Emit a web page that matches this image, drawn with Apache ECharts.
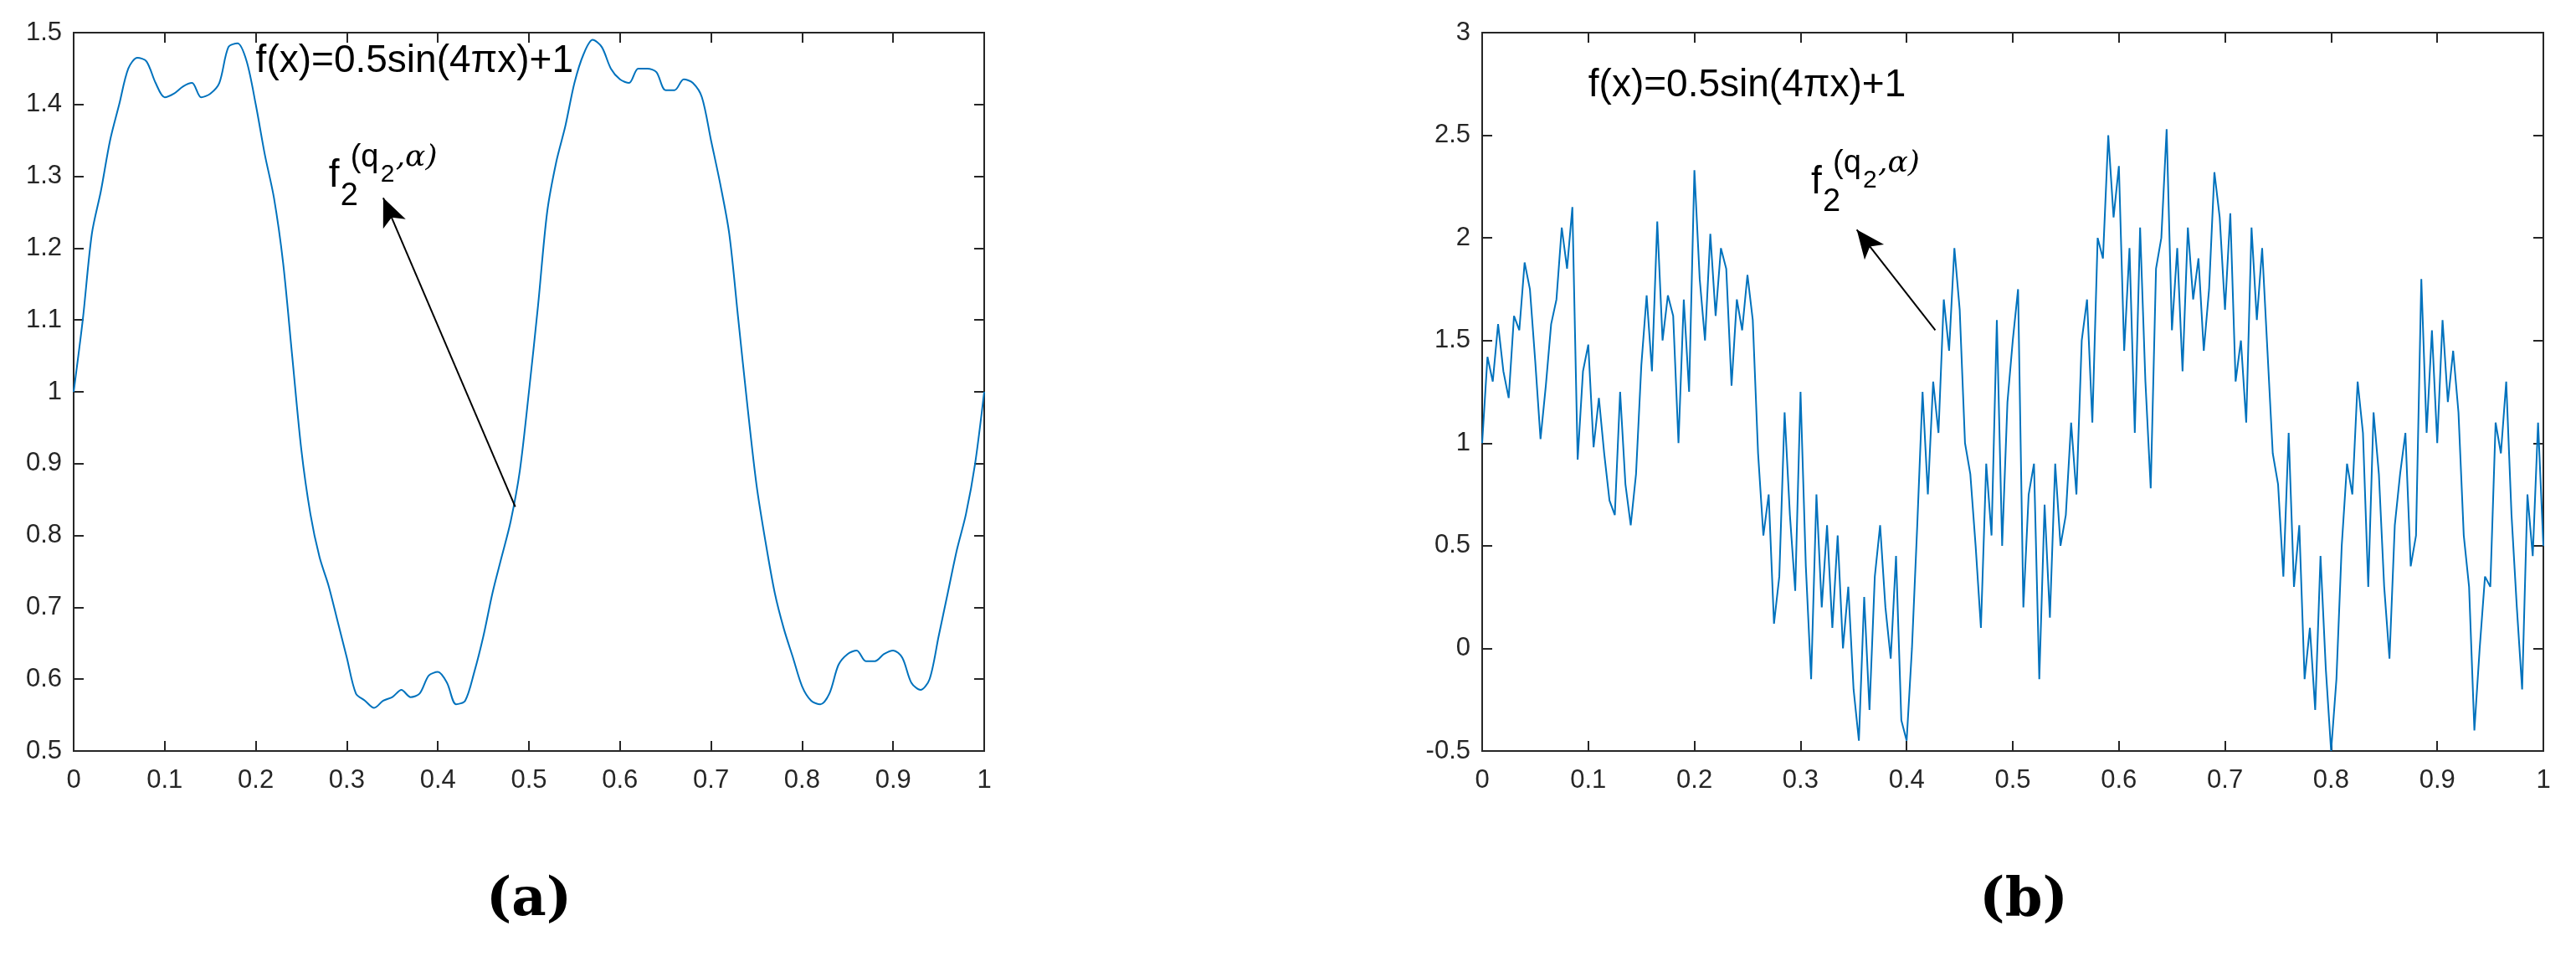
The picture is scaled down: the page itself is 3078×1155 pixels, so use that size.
<!DOCTYPE html>
<html><head><meta charset="utf-8">
<script src="https://cdn.jsdelivr.net/npm/echarts@6/dist/echarts.min.js"></script>
<style>html,body{margin:0;background:#fff}#c{width:3078px;height:1155px}</style>
</head><body><div id="c"></div>
<script>
var chart = echarts.init(document.getElementById('c'));

// panel (a): smooth curve, x step 0.01
var yA = [1.0,1.1,1.22,1.28,1.35,1.40,1.45,1.465,1.46,1.43,1.41,1.415,1.425,1.43,1.41,1.415,1.43,1.48,1.485,1.46,
  1.40,1.33,1.27,1.18,1.05,0.92,0.83,0.77,0.73,0.68,0.63,0.58,0.57,0.56,0.57,0.575,0.585,0.575,0.58,0.605,
  0.61,0.595,0.565,0.57,0.61,0.66,0.72,0.77,0.82,0.89,1.0,1.12,1.25,1.32,1.37,1.43,1.47,1.49,1.48,1.45,
  1.435,1.43,1.45,1.45,1.445,1.42,1.42,1.435,1.43,1.41,1.35,1.29,1.22,1.10,0.98,0.87,0.79,0.72,0.67,0.63,
  0.59,0.57,0.565,0.58,0.62,0.635,0.64,0.625,0.625,0.635,0.64,0.63,0.595,0.585,0.60,0.66,0.72,0.78,0.83,0.90,1.0];
// panel (b): rough curve, x step 0.005
var yB = [1.0,1.42,1.3,1.58,1.35,1.22,1.62,1.55,1.88,1.75,1.4,1.02,1.28,1.58,1.7,2.05,1.85,2.15,0.92,1.35,
  1.48,0.98,1.22,0.95,0.72,0.65,1.25,0.8,0.6,0.85,1.38,1.72,1.35,2.08,1.5,1.72,1.62,1.0,1.7,1.25,
  2.33,1.8,1.5,2.02,1.62,1.95,1.85,1.28,1.7,1.55,1.82,1.6,0.95,0.55,0.75,0.12,0.35,1.15,0.65,0.28,
  1.25,0.4,-0.15,0.75,0.2,0.6,0.1,0.55,0.0,0.3,-0.2,-0.45,0.25,-0.3,0.35,0.6,0.2,-0.05,0.45,-0.35,
  -0.45,0.0,0.6,1.25,0.75,1.3,1.05,1.7,1.45,1.95,1.65,1.0,0.85,0.5,0.1,0.9,0.55,1.6,0.5,1.2,
  1.5,1.75,0.2,0.75,0.9,-0.15,0.7,0.15,0.9,0.5,0.65,1.1,0.75,1.5,1.7,1.1,2.0,1.9,2.5,2.1,
  2.35,1.45,1.95,1.05,2.05,1.3,0.78,1.85,2.0,2.53,1.55,1.95,1.35,2.05,1.7,1.9,1.45,1.75,2.32,2.1,
  1.65,2.12,1.3,1.5,1.1,2.05,1.6,1.95,1.45,0.95,0.8,0.35,1.05,0.3,0.6,-0.15,0.1,-0.3,0.45,-0.1,
  -0.5,-0.15,0.5,0.9,0.75,1.3,1.05,0.3,1.15,0.85,0.3,-0.05,0.6,0.85,1.05,0.4,0.55,1.8,1.05,1.55,
  1.0,1.6,1.2,1.45,1.15,0.55,0.3,-0.4,0.0,0.35,0.3,1.1,0.95,1.3,0.65,0.2,-0.2,0.75,0.45,1.1,0.5];
var eqText = 'f(x)=0.5sin(4πx)+1';
var captions = ['(a)', '(b)'];
// annotations in data units: equation pos, f label pos, arrow [from, to]
var annA = {eq: [0.2, 1.46], lab: [0.28, 1.3], arrow: [[0.485, 0.84], [0.34, 1.27]]};
var annB = {eq: [0.1, 2.74], lab: [0.31, 2.27], arrow: [[0.427, 1.55], [0.353, 2.04]]};

function pts(arr, step) { return arr.map(function (v, i) { return [+(i * step).toFixed(3), v]; }); }

var fontC = '#262626';
var lbl = {color: fontC, fontSize: 31, fontFamily: 'Liberation Sans',
  formatter: function (v) { return +v.toFixed(1) + ''; }};
function axisPair(dim, gi, min, max, iv) {
  var main = {type: 'value', gridIndex: gi, min: min, max: max, interval: iv,
    axisLine: {onZero: false, lineStyle: {color: fontC, width: 2}},
    axisTick: {inside: true, length: 12, lineStyle: {color: fontC, width: 2}},
    axisLabel: Object.assign({margin: dim === 'x' ? 20 : 14}, lbl),
    splitLine: {show: false}};
  var other = {type: 'value', gridIndex: gi, position: dim === 'x' ? 'top' : 'right', min: min, max: max, interval: iv,
    axisLine: {onZero: false, lineStyle: {color: fontC, width: 2}},
    axisTick: {inside: true, length: 12, lineStyle: {color: fontC, width: 2}},
    axisLabel: {show: false}, splitLine: {show: false}};
  return [main, other];
}
function arrowLine(a) {
  return {silent: true, symbol: ['none', 'arrow'], symbolSize: [22, 34],
    lineStyle: {color: '#000', width: 2, type: 'solid'}, label: {show: false},
    data: [[{coord: a[0]}, {coord: a[1]}]]};
}

chart.setOption({
  animation: false,
  grid: [
    {left: 88, right: 1902, top: 39, bottom: 258, show: true, borderColor: fontC, borderWidth: 2},
    {left: 1771, right: 39, top: 39, bottom: 258, show: true, borderColor: fontC, borderWidth: 2}
  ],
  xAxis: axisPair('x', 0, 0, 1, 0.1).concat(axisPair('x', 1, 0, 1, 0.1)),
  yAxis: axisPair('y', 0, 0.5, 1.5, 0.1).concat(axisPair('y', 1, -0.5, 3, 0.5)),
  series: [
    {type: 'line', xAxisIndex: 0, yAxisIndex: 0, data: pts(yA, 0.01), smooth: 0.3, showSymbol: false,
      lineStyle: {color: '#0072BD', width: 2}, markLine: arrowLine(annA.arrow)},
    {type: 'line', xAxisIndex: 2, yAxisIndex: 2, data: pts(yB, 0.005), showSymbol: false,
      lineStyle: {color: '#0072BD', width: 2}, markLine: arrowLine(annB.arrow)}
  ]
});

var g = [];
function addLabels(ann, xi, yi) {
  var p = chart.convertToPixel({xAxisIndex: xi, yAxisIndex: yi}, ann.eq);
  g.push({type: 'text', x: p[0], y: p[1], style: {text: eqText, font: '46px "Liberation Sans"', fill: '#000', textVerticalAlign: 'middle'}});
  var q = chart.convertToPixel({xAxisIndex: xi, yAxisIndex: yi}, ann.lab);
  g.push({type: 'text', x: q[0], y: q[1], style: {text: 'f', font: '46px "Liberation Sans"', fill: '#000', textVerticalAlign: 'middle'}});
  g.push({type: 'text', x: q[0] + 14, y: q[1] + 24, style: {text: '2', font: '38px "Liberation Sans"', fill: '#000', textVerticalAlign: 'middle'}});
  g.push({type: 'text', x: q[0] + 26, y: q[1] - 22, style: {text: '(q', font: '38px "Liberation Sans"', fill: '#000', textVerticalAlign: 'middle'}});
  g.push({type: 'text', x: q[0] + 62, y: q[1] - 2, style: {text: '2', font: '30px "Liberation Sans"', fill: '#000', textVerticalAlign: 'middle'}});
  g.push({type: 'text', x: q[0] + 80, y: q[1] - 22, style: {text: ',α)', font: 'italic 36px "DejaVu Serif"', fill: '#000', textVerticalAlign: 'middle'}});
}
addLabels(annA, 0, 0);
addLabels(annB, 2, 2);
g.push({type: 'text', x: 632, y: 1076, style: {text: captions[0], font: 'bold 64px "DejaVu Serif"', fill: '#000', textAlign: 'center', textVerticalAlign: 'middle'}});
g.push({type: 'text', x: 2418, y: 1076, style: {text: captions[1], font: 'bold 64px "DejaVu Serif"', fill: '#000', textAlign: 'center', textVerticalAlign: 'middle'}});
chart.setOption({graphic: g});
</script></body></html>
